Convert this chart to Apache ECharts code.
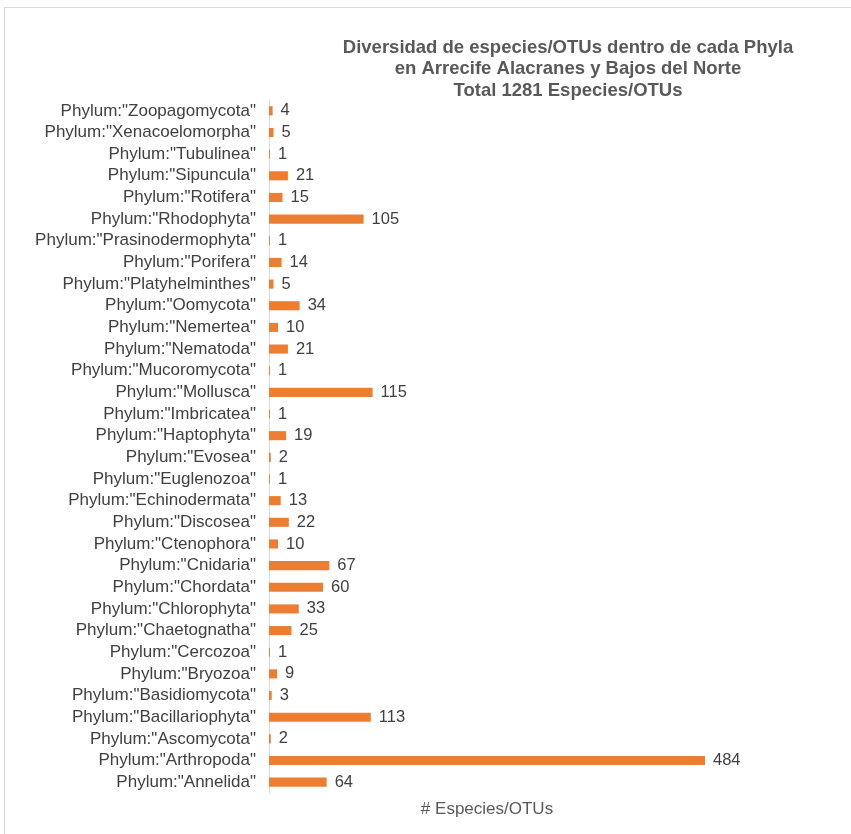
<!DOCTYPE html>
<html>
<head>
<meta charset="utf-8">
<script src="https://cdn.jsdelivr.net/npm/echarts@6/dist/echarts.min.js"></script>
<style>
  html, body { margin: 0; padding: 0; background: #fff; }
  #frame { position: absolute; left: 4px; top: 7px; width: 900px; height: 900px;
           border-left: 1px solid #d9d9d9; border-top: 1px solid #d9d9d9; }
  #chart { width: 851px; height: 834px; }
</style>
</head>
<body>
<div id="frame"></div>
<div id="chart" style="position:absolute;left:0;top:0;"></div>
<script>
// Phyla listed bottom-to-top along the category axis
const phyla = [
  'Phylum:"Annelida"', 'Phylum:"Arthropoda"', 'Phylum:"Ascomycota"', 'Phylum:"Bacillariophyta"',
  'Phylum:"Basidiomycota"', 'Phylum:"Bryozoa"', 'Phylum:"Cercozoa"', 'Phylum:"Chaetognatha"',
  'Phylum:"Chlorophyta"', 'Phylum:"Chordata"', 'Phylum:"Cnidaria"', 'Phylum:"Ctenophora"',
  'Phylum:"Discosea"', 'Phylum:"Echinodermata"', 'Phylum:"Euglenozoa"', 'Phylum:"Evosea"',
  'Phylum:"Haptophyta"', 'Phylum:"Imbricatea"', 'Phylum:"Mollusca"', 'Phylum:"Mucoromycota"',
  'Phylum:"Nematoda"', 'Phylum:"Nemertea"', 'Phylum:"Oomycota"', 'Phylum:"Platyhelminthes"',
  'Phylum:"Porifera"', 'Phylum:"Prasinodermophyta"', 'Phylum:"Rhodophyta"', 'Phylum:"Rotifera"',
  'Phylum:"Sipuncula"', 'Phylum:"Tubulinea"', 'Phylum:"Xenacoelomorpha"', 'Phylum:"Zoopagomycota"'
];
// Number of species/OTUs per phylum
const speciesCount = [
  64, 484, 2, 113,
  3, 9, 1, 25,
  33, 60, 67, 10,
  22, 13, 1, 2,
  19, 1, 115, 1,
  21, 10, 34, 5,
  14, 1, 105, 15,
  21, 1, 5, 4
];
const titleLines = [
  'Diversidad de especies/OTUs dentro de cada Phyla',
  'en Arrecife Alacranes y Bajos del Norte',
  'Total 1281 Especies/OTUs'
];
const axisName = '# Especies/OTUs';

const chart = echarts.init(document.getElementById('chart'), null, { renderer: 'canvas' });
const font = 'Liberation Sans, Arial, Helvetica, sans-serif';
chart.setOption({
  backgroundColor: 'transparent',
  animation: false,
  title: {
    text: titleLines.join('\n'),
    left: 563, top: 32,
    textAlign: 'center',
    textStyle: { fontFamily: font, fontSize: 18.5, fontWeight: 'bold', color: '#595959', lineHeight: 21.5 }
  },
  grid: { left: 269, top: 100, width: 436, bottom: 41, containLabel: false },
  xAxis: {
    type: 'value', min: 0, max: 484,
    axisLine: { show: false }, axisTick: { show: false }, axisLabel: { show: false },
    splitLine: { show: false },
    name: axisName, nameLocation: 'middle', nameGap: 8,
    nameTextStyle: { fontFamily: font, fontSize: 17, color: '#595959', verticalAlign: 'top' }
  },
  yAxis: {
    type: 'category', data: phyla,
    axisLine: { show: true, lineStyle: { color: '#d9d9d9', width: 1 } },
    axisTick: { show: false },
    axisLabel: { interval: 0, fontFamily: font, fontSize: 17, color: '#404040', margin: 13 }
  },
  series: [{
    type: 'bar', data: speciesCount, barWidth: '42%',
    itemStyle: { color: '#ED7D31' },
    label: { show: true, position: 'right', distance: 8, fontFamily: font, fontSize: 16.5, color: '#404040' }
  }]
});
</script>
</body>
</html>
